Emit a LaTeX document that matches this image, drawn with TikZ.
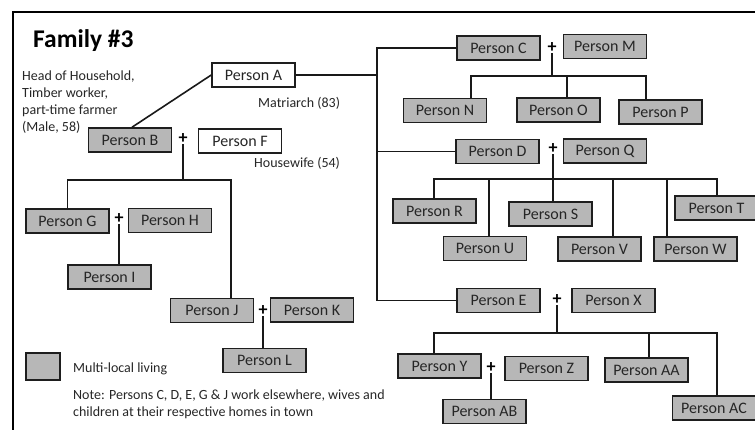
\documentclass[tikz,border=0pt]{standalone}
\usepackage{fontspec}
\setmainfont{Carlito}
\definecolor{boxgray}{RGB}{183,183,183}
\definecolor{edgecol}{RGB}{30,30,30}
\tikzset{
  pbox/.style={draw=edgecol, line width=1.5pt, minimum width=83pt, minimum height=24pt, inner sep=0pt, font=\fontsize{16}{18}\selectfont, text=black!85},
  gbox/.style={pbox, fill=boxgray},
  wbox/.style={pbox, fill=white},
  plussign/.style={inner sep=0pt, font=\fontsize{18}{18}\selectfont\bfseries},
  lbl/.style={inner sep=0pt, anchor=west, font=\fontsize{14}{17}\selectfont, text=black!85},
  conn/.style={line width=1.6pt, draw=black!90}
}
\begin{document}
\begin{tikzpicture}[x=1pt,y=-1pt]
\useasboundingbox (0,0) rectangle (755,430);
\clip (0,0) rectangle (755,430);
% frame
\draw[line width=1.8pt] (13,430) -- (13,12) -- (755,12);
% title
\node[inner sep=0pt, anchor=west, font=\fontsize{25.5}{28}\selectfont\bfseries] (title) at (33,41) {Family \#3};
% left side nodes
\node[wbox] (A) at (253.5,75) {Person A};
\node[gbox] (B) at (130,140) {Person B};
\node[wbox] (F) at (240,141) {Person F};
\node[plussign] (pBF) at (183,139) {+};
\node[gbox] (G) at (67.5,221) {Person G};
\node[gbox] (H) at (170,220.5) {Person H};
\node[plussign] (pGH) at (119,219) {+};
\node[gbox] (I) at (109.5,277) {Person I};
\node[gbox] (J) at (212,310.5) {Person J};
\node[gbox] (K) at (312,310) {Person K};
\node[plussign] (pJK) at (263,311) {+};
\node[gbox] (L) at (264.5,360.5) {Person L};
% right side nodes
\node[gbox] (C) at (498.5,48) {Person C};
\node[gbox] (M) at (605,46.5) {Person M};
\node[plussign] (pCM) at (552,48) {+};
\node[gbox] (N) at (445,110.5) {Person N};
\node[gbox] (O) at (558.5,110) {Person O};
\node[gbox] (P) at (660.5,112) {Person P};
\node[gbox] (D) at (497.5,151.5) {Person D};
\node[gbox] (Q) at (605,151) {Person Q};
\node[plussign] (pDQ) at (553,149) {+};
\node[gbox] (R) at (434.5,211) {Person R};
\node[gbox] (S) at (550.5,214) {Person S};
\node[gbox] (T) at (716.5,208) {Person T};
\node[gbox] (U) at (485,248.5) {Person U};
\node[gbox] (V) at (599.5,249) {Person V};
\node[gbox] (W) at (695.5,249) {Person W};
\node[gbox] (E) at (498.5,300.5) {Person E};
\node[gbox] (X) at (613.5,300.5) {Person X};
\node[plussign] (pEX) at (557,300) {+};
\node[gbox] (Y) at (439.5,366) {Person Y};
\node[gbox] (Z) at (546.5,368.5) {Person Z};
\node[plussign] (pYZ) at (491,368) {+};
\node[gbox] (AA) at (646.5,370) {Person AA};
\node[gbox] (AB) at (484.5,411.5) {Person AB};
\node[gbox] (AC) at (714,408) {Person AC};
% labels
\node[lbl, anchor=north west, align=left, font=\fontsize{14}{16.7}\selectfont] (head) at (22,71) {Head of Household,\\Timber worker,\\part-time farmer\\(Male, 58)};
\node[lbl] (matri) at (258,103) {Matriarch (83)};
\node[lbl] (house) at (254,163) {Housewife (54)};
\node[draw=edgecol, line width=1.5pt, fill=boxgray, minimum width=34pt, minimum height=27pt, inner sep=0pt] (legend) at (43,366.5) {};
\node[lbl] (legtext) at (73,369) {Multi-local living};
\node[lbl, anchor=north west, align=left, font=\fontsize{14}{17}\selectfont] (note) at (73,390) {Note: Persons C, D, E, G \& J work elsewhere, wives and\\children at their respective homes in town};
% connectors
\coordinate (tr) at (377,0);
\draw[conn] (A.west) -- ([xshift=2pt]B.north);
\draw[conn] (A.east) -- (A.east -| tr);
\draw[conn] (C.west) -- (C.west -| tr) -- (E.west -| tr) -- (E.west);
\draw[conn] (D.west) -- (D.west -| tr);
% B + F children
\draw[conn] (pBF.south) -- (183,180);
\draw[conn] (G.north) -- (67.5,180) -- (231,180) -- (J.north -| 231,0);
\draw[conn] (pGH.south) -- (pGH.south |- I.north);
\draw[conn] (pJK.south) -- (pJK.south |- L.north);
% C + M children
\draw[conn] (pCM.south) -- (552,76);
\draw[conn] (N.north -| 471,0) -- (471,76) -- (646,76) -- (P.north -| 646,0);
\draw[conn] (O.north -| 567,0) -- (567,76);
% D + Q children
\draw[conn] (pDQ.south) -- (553,179);
\draw[conn] (R.north -| 434,0) -- (434,179) -- (717,179) -- (T.north -| 717,0);
\draw[conn] (U.north -| 489,0) -- (489,179);
\draw[conn] (S.north -| 553,0) -- (553,179);
\draw[conn] (V.north -| 613,0) -- (613,179);
\draw[conn] (W.north -| 667,0) -- (667,179);
% E + X children
\draw[conn] (pEX.south) -- (557,333);
\draw[conn] (Y.north -| 434,0) -- (434,333) -- (717,333) -- (AC.north -| 717,0);
\draw[conn] (AA.north -| 649,0) -- (649,333);
\draw[conn] (pYZ.south) -- (pYZ.south |- AB.north);
\end{tikzpicture}
\end{document}
